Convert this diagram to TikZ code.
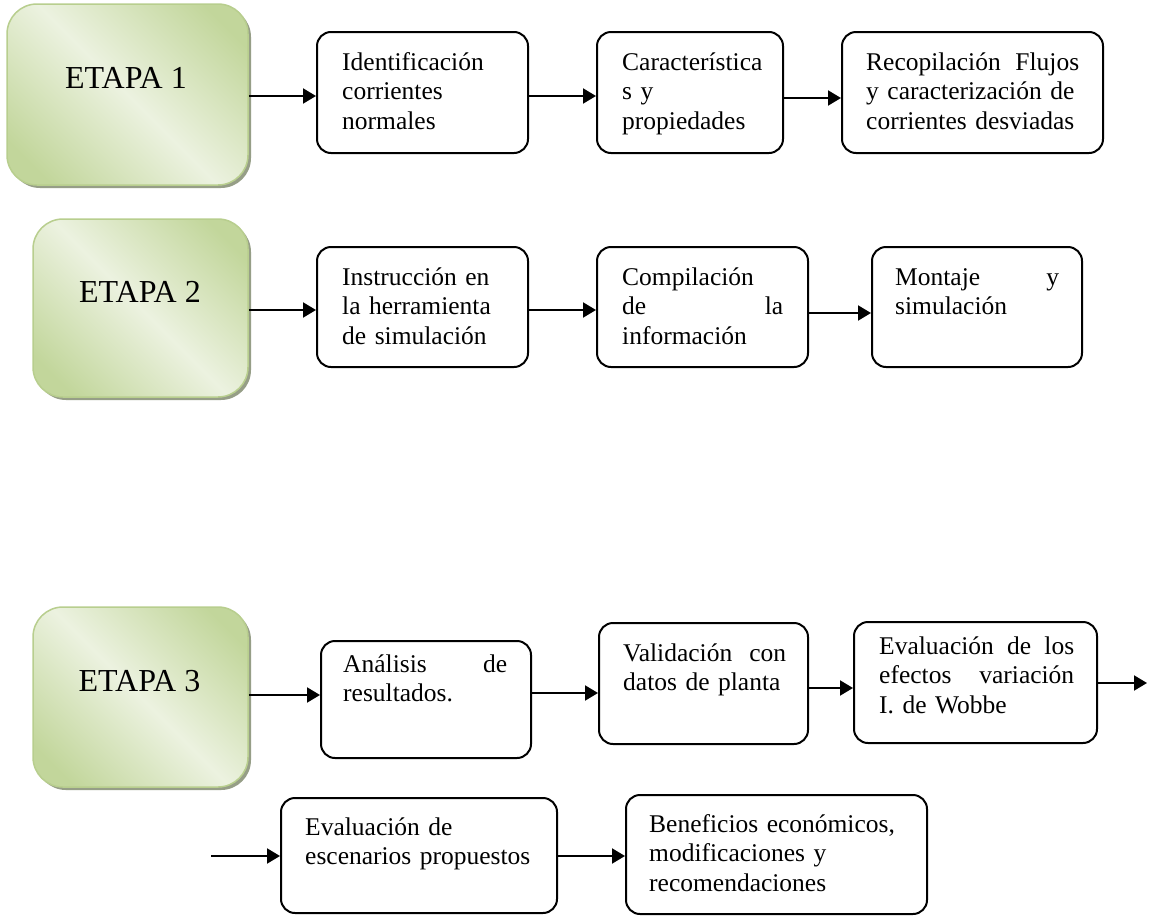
\documentclass[tikz,border=0pt]{standalone}
\usepackage{fontspec}
\setmainfont{Liberation Serif}
\usetikzlibrary{arrows.meta,calc}
\definecolor{edark}{RGB}{194,214,155}
\definecolor{elight}{RGB}{236,242,224}
\definecolor{eborder}{RGB}{184,206,142}
\definecolor{eshadow}{RGB}{150,158,135}
\pgfdeclarehorizontalshading{etapashade}{100bp}{color(0bp)=(edark); color(22bp)=(edark); color(50bp)=(elight); color(78bp)=(edark); color(100bp)=(edark)}
\tikzset{
  ebox/.style={draw=eborder, line width=1.5pt, rounded corners=30pt, shading=etapashade, shading angle=45, inner sep=0pt},
  eshad/.style={fill=eshadow, rounded corners=30pt},
  elabel/.style={font=\fontsize{32}{36}\selectfont, inner sep=0pt},
  ibox/.style={draw=black, line width=2pt, rounded corners=14pt, inner sep=0pt},
  itext/.style={font=\fontsize{25.5}{29.5}\selectfont, align=left, inner sep=0pt, anchor=north west},
  arr/.style={line width=2pt, -{Triangle[length=13pt,width=15pt]}}
}
\begin{document}
\begin{tikzpicture}[x=1pt,y=-1pt]
\useasboundingbox[fill=white] (0,0) rectangle (1150,916);

% ETAPA boxes
\fill[eshad] (10,7) rectangle (251,188);
\node[ebox, minimum width=241pt, minimum height=181pt] (e1) at (127.5,94.5) {};
\node[elabel] (l1) at (126,78) {ETAPA 1};

\fill[eshad] (36,222) rectangle (251,400);
\node[ebox, minimum width=215pt, minimum height=178pt] (e2) at (140.5,308) {};
\node[elabel] (l2) at (140,292) {ETAPA 2};

\fill[eshad] (36,610) rectangle (251,790);
\node[ebox, minimum width=215pt, minimum height=180pt] (e3) at (140.5,697) {};
\node[elabel] (l3) at (139.5,681) {ETAPA 3};

% Row 1
\node[ibox, minimum width=211pt, minimum height=121pt] (i1) at (422.5,92.5) {};
\node[itext, text width=185pt] (t1) at (342,49.35) {\strut Identificación\\corrientes\\normales};
\node[ibox, minimum width=186pt, minimum height=121pt] (i2) at (690,92.5) {};
\node[itext, text width=145pt] (t2) at (622,49.35) {\strut Característica\\s y\\propiedades};
\node[ibox, minimum width=261pt, minimum height=121pt] (i3) at (972.5,92.5) {};
\node[itext, text width=213pt] (t3) at (866,49.35) {\strut Recopilación\hfill Flujos\\y caracterización de\\corrientes desviadas};

% Row 2
\node[ibox, minimum width=211pt, minimum height=120pt] (i4) at (422.5,307) {};
\node[itext, text width=185pt] (t4) at (342,264.35) {\strut Instrucción en\\la herramienta\\de simulación};
\node[ibox, minimum width=211pt, minimum height=120pt] (i5) at (702.5,307) {};
\node[itext, text width=161pt] (t5) at (622,264.35) {\strut Compilación\\de\hfill la\\información};
\node[ibox, minimum width=210pt, minimum height=120pt] (i6) at (977,307) {};
\node[itext, text width=164pt] (t6) at (895,264.35) {\strut Montaje\hfill y\\simulación};

% Row 3
\node[ibox, minimum width=210pt, minimum height=117pt] (i7) at (426,699.5) {};
\node[itext, text width=164pt] (t7) at (343,651.35) {\strut Análisis\hfill de\\resultados.};
\node[ibox, minimum width=209pt, minimum height=121pt] (i8) at (703.5,683.5) {};
\node[itext, text width=163pt] (t8) at (623,640.35) {\strut Validación\hfill con\\datos de planta};
\node[ibox, minimum width=243pt, minimum height=121pt] (i9) at (975.5,682.5) {};
\node[itext, text width=195pt] (t9) at (879,633.35) {\strut Evaluación\hfill de\hfill los\\efectos\hfill variación\\I. de Wobbe};

% Row 4
\node[ibox, minimum width=276pt, minimum height=115pt] (i10) at (419,855.5) {};
\node[itext, text width=240pt] (t10) at (305,814.35) {\strut Evaluación de\\escenarios propuestos};
\node[ibox, minimum width=301pt, minimum height=119pt] (i11) at (776.5,854.5) {};
\node[itext, text width=260pt] (t11) at (649,811.35) {\strut Beneficios económicos,\\modificaciones y\\recomendaciones};

\coordinate (out) at (1147,683);
\coordinate (in) at (211,856);

% Arrows
\draw[arr] (e1.east |- 0,96) -- (i1.west |- 0,96);
\draw[arr] (i1.east |- 0,96) -- (i2.west |- 0,96);
\draw[arr] (i2.east |- 0,98) -- (i3.west |- 0,98);

\draw[arr] (e2.east |- 0,310) -- (i4.west |- 0,310);
\draw[arr] (i4.east |- 0,310) -- (i5.west |- 0,310);
\draw[arr] (i5.east |- 0,313) -- (i6.west |- 0,313);

\draw[arr] (e3.east |- 0,695) -- (i7.west |- 0,695);
\draw[arr] (i7.east |- 0,693) -- (i8.west |- 0,693);
\draw[arr] (i8.east |- 0,688) -- (i9.west |- 0,688);
\draw[arr] (i9.east |- 0,683) -- (out);

\draw[arr] (in) -- (i10.west |- 0,856);
\draw[arr] (i10.east |- 0,856) -- (i11.west |- 0,856);
\end{tikzpicture}
\end{document}
